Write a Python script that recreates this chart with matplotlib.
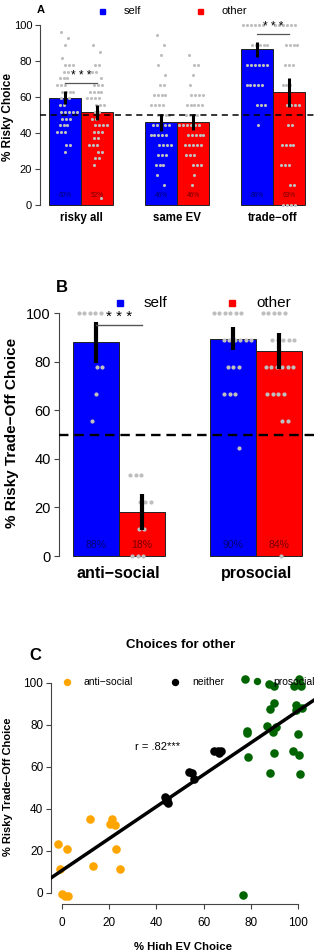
import numpy as np
import matplotlib
matplotlib.use("Agg")
import matplotlib.pyplot as plt

plt.rcParams['font.family'] = ['Liberation Sans', 'DejaVu Sans']

BLUE = '#0000FF'
RED = '#FF0000'
DOT = '#BEBEBE'
AXC = '#444444'

# ---- panel A: all choices ----
cond_a = ['risky all', 'same EV', 'trade\u2212off']
self_a = [59.6, 46.0, 86.5]
other_a = [51.5, 46.0, 62.6]
self_a_ci = [(56.1, 63.5), (41.3, 50.5), (82.4, 90.4)]
other_a_ci = [(47.2, 55.4), (41.5, 50.5), (54.6, 70.7)]
self_a_lab = ['60%', '46%', '86%']
other_a_lab = ['52%', '46%', '63%']

# gray subject dots as (value, count)
dots_risky_self = [(96, 1), (92.6, 1), (88.9, 1), (81.5, 1), (77.8, 3), (74, 2), (70.4, 3),
                   (66.7, 3), (63, 4), (59.3, 3), (55.6, 2), (51.9, 5), (48, 3), (44.4, 3),
                   (40.7, 3), (33.3, 2), (29.6, 1)]
dots_risky_other = [(88.9, 1), (85.2, 1), (77.8, 2), (74, 2), (70.4, 1), (66.7, 3), (63, 4),
                    (59.3, 4), (55.6, 3), (51.9, 2), (48, 2), (44.4, 4), (40.7, 3), (37, 2),
                    (33.3, 3), (29.6, 2), (25.9, 2), (22.2, 1), (3.7, 1)]
dots_same_self = [(94.4, 1), (88.9, 1), (83.3, 1), (77.8, 1), (72.2, 1), (66.7, 2), (61.1, 4),
                  (55.6, 4), (50, 4), (44.4, 5), (38.9, 5), (33.3, 4), (27.8, 3), (22.2, 3),
                  (16.7, 1), (11.1, 1)]
dots_same_other = [(83.3, 1), (77.8, 2), (72.2, 1), (66.7, 1), (61.1, 4), (55.6, 5), (50, 4),
                   (44.4, 6), (38.9, 5), (33.3, 5), (27.8, 3), (22.2, 3), (16.7, 1), (11.1, 1)]
dots_trade_self = [(100, 6), (88.9, 5), (77.8, 6), (66.7, 5), (55.6, 3), (44.4, 1)]
dots_trade_other = [(100, 6), (88.9, 4), (77.8, 3), (66.7, 3), (55.6, 4), (44.4, 2), (33.3, 4),
                    (22.2, 3), (11.1, 2), (0, 4)]

# ---- panel B: trade-off choices by group ----
cond_b = ['anti\u2212social', 'prosocial']
self_b = [87.9, 89.3]
other_b = [18.0, 84.5]
self_b_ci = [(79.3, 96.4), (84.8, 94.1)]
other_b_ci = [(10.6, 25.5), (77.0, 91.6)]
self_b_lab = ['88%', '90%']
other_b_lab = ['18%', '84%']

dots_anti_self = [(100, 5), (77.8, 2), (66.7, 1), (55.6, 1)]
dots_anti_other = [(33.3, 3), (22.2, 3), (11.1, 2), (0, 3)]
dots_pro_self = [(100, 6), (88.9, 6), (77.8, 3), (66.7, 3), (44.4, 1)]
dots_pro_other = [(100, 5), (88.9, 5), (77.8, 6), (66.7, 4), (55.6, 2), (0, 1)]

# ---- panel C: choices for other ----
anti_x = [-1.6, -0.8, 2.0, 0.0, 1.4, 2.5, 11.7, 13.0, 21.2, 20.5, 22.6, 22.9, 24.6]
anti_y = [23.5, 11.6, 21.1, -0.3, -1.3, -1.6, 35.2, 13.0, 35.2, 33.0, 32.4, 21.1, 11.4]
neither_x = [43.5, 44.6, 44.0, 45.0, 54.0, 55.0, 55.8, 64.5, 66.0, 67.5, 66.5]
neither_y = [45.5, 44.8, 43.6, 43.0, 57.5, 57.2, 54.3, 67.8, 67.5, 67.8, 66.5]
pro_x = [77.7, 87.7, 89.7, 98.2, 100.5, 101.5, 100.8, 88.0, 89.9, 99.3, 99.3, 101.7, 78.4,
         78.6, 86.8, 89.4, 90.5, 100.0, 79.0, 89.7, 97.9, 100.6, 88.3, 100.7, 76.9]
pro_y = [102.0, 99.5, 98.7, 98.4, 101.8, 98.3, 99.5, 87.6, 90.2, 89.4, 87.0, 88.1, 76.2,
         77.0, 79.4, 76.5, 79.0, 75.7, 64.8, 66.7, 67.5, 65.9, 57.1, 56.7, -0.8]
r_text = 'r = .82***'


def draw_dots(ax, xc, dots, gap, size):
    for k, (val, n) in enumerate(dots):
        offs = (np.arange(n) - (n - 1) / 2) * gap
        shift = ((k * 5) % 7 - 3) * gap * 0.35
        ax.scatter(xc + offs + shift, np.full(n, val), s=size, color=DOT, lw=0, zorder=3)


def style_axis(ax, fs, ticklen):
    for s in ['top', 'right', 'bottom']:
        ax.spines[s].set_visible(False)
    ax.spines['left'].set_bounds(0, 100)
    ax.spines['left'].set_color(AXC)
    ax.spines['left'].set_linewidth(0.8)
    ax.set_yticks([0, 20, 40, 60, 80, 100])
    ax.tick_params(axis='y', length=ticklen, width=0.8, color=AXC, labelsize=fs, pad=2)
    ax.set_xticks([])
    ax.set_facecolor('none')


def bar_panel(ax, self_v, other_v, self_ci, other_ci, self_lab, other_lab, dots_s, dots_o,
              cats, gap, dsize, elw, labfs, pctfs, laby, pcty):
    n = len(self_v)
    xs = np.arange(n) * 3 + 1.5
    xo = xs + 1
    ax.bar(xs, self_v, width=1, color=BLUE, edgecolor='#222222', lw=0.7, zorder=2)
    ax.bar(xo, other_v, width=1, color=RED, edgecolor='#222222', lw=0.7, zorder=2)
    for i in range(n):
        draw_dots(ax, xs[i], dots_s[i], gap, dsize)
        draw_dots(ax, xo[i], dots_o[i], gap, dsize)
        ax.plot([xs[i], xs[i]], self_ci[i], color='black', lw=elw, solid_capstyle='butt', zorder=5)
        ax.plot([xo[i], xo[i]], other_ci[i], color='black', lw=elw, solid_capstyle='butt', zorder=5)
        ax.text(xs[i], pcty, self_lab[i], ha='center', va='center', fontsize=pctfs,
                color='black', alpha=0.55, zorder=6)
        ax.text(xo[i], pcty, other_lab[i], ha='center', va='center', fontsize=pctfs,
                color='black', alpha=0.55, zorder=6)
        ax.text(xs[i] + 0.5, laby, cats[i], ha='center', va='center', fontsize=labfs,
                fontweight='bold', clip_on=False)
    return xs, xo


fig = plt.figure(figsize=(3.14, 9.5), dpi=100)

# panel A
axA = fig.add_axes([40 / 314, 0.7766, 274 / 314, 0.2046])
xs, xo = bar_panel(axA, self_a, other_a, self_a_ci, other_a_ci, self_a_lab, other_a_lab,
                   [dots_risky_self, dots_same_self, dots_trade_self],
                   [dots_risky_other, dots_same_other, dots_trade_other],
                   cond_a, 0.12, 5, 2.2, 8.3, 4.7, -7.2, 5.5)
axA.axhline(50, color='black', lw=1.1, dashes=(4, 3), zorder=4)
axA.set_xlim(0.72, 9.28)
axA.set_ylim(-4, 104)
style_axis(axA, 8, 3.6)
for i, lvl in [(0, 68), (2, 95)]:
    axA.plot([xs[i], xo[i]], [lvl, lvl], color='#555555', lw=0.9, zorder=6)
    axA.text((xs[i] + xo[i]) / 2, lvl + 0.5, '* * *', ha='center', va='bottom', fontsize=8.5, zorder=6)

# panel B
axB = fig.add_axes([59 / 314, 0.4045, 255 / 314, 0.2762])
xs, xo = bar_panel(axB, self_b, other_b, self_b_ci, other_b_ci, self_b_lab, other_b_lab,
                   [dots_anti_self, dots_pro_self], [dots_anti_other, dots_pro_other],
                   cond_b, 0.12, 9, 3.0, 11.5, 7.5, -7.0, 4.5)
axB.axhline(50, color='black', lw=1.7, dashes=(4, 2.5), zorder=4)
axB.set_xlim(0.70, 6.255)
axB.set_ylim(-4, 104)
style_axis(axB, 10.5, 3.8)
axB.plot([xs[0], xo[0]], [95, 95], color='#555555', lw=1.0, zorder=6)
axB.text((xs[0] + xo[0]) / 2, 95.3, '* * *', ha='center', va='bottom', fontsize=11, zorder=6)

# panel C
axC = fig.add_axes([51 / 314, 0.04842, 263 / 314, 0.2471])
axC.scatter(anti_x, anti_y, s=38, color='#FFA500', lw=0, zorder=3)
axC.scatter(neither_x, neither_y, s=38, color='black', lw=0, zorder=3)
axC.scatter(pro_x, pro_y, s=38, color='#006400', lw=0, zorder=3)
all_x = np.array(anti_x + neither_x + pro_x)
all_y = np.array(anti_y + neither_y + pro_y)
slope, icpt = np.polyfit(all_x, all_y, 1)
lx = np.array([-10, 120])
axC.plot(lx, icpt + slope * lx, color='black', lw=2.5, zorder=4)
axC.text(40.3, 69.5, r_text, ha='center', va='center', fontsize=8)
axC.set_xlim(-4.66, 106.8)
axC.set_ylim(-5.24, 106.5)
style_axis(axC, 8.5, 3.6)
axC.spines['bottom'].set_visible(True)
axC.spines['bottom'].set_bounds(0, 100)
axC.spines['bottom'].set_color(AXC)
axC.spines['bottom'].set_linewidth(0.8)
axC.set_xticks([0, 20, 40, 60, 80, 100])
axC.tick_params(axis='x', length=3.6, width=0.8, color=AXC, labelsize=8.5, pad=6)
axC.set_xlabel('% High EV Choice', fontsize=8.2, fontweight='bold', labelpad=9)

# overlay in pixel coordinates for letters, titles, axis titles and legends
ov = fig.add_axes([0, 0, 1, 1])
ov.set_xlim(0, 314)
ov.set_ylim(950, 0)
ov.axis('off')
ov.text(41, 10, 'A', fontsize=8, fontweight='bold', ha='center', va='center')
ov.text(62, 288, 'B', fontsize=12, fontweight='bold', ha='center', va='center')
ov.text(35, 655, 'C', fontsize=12, fontweight='bold', ha='center', va='center')
ov.text(181, 645, 'Choices for other', fontsize=9.5, fontweight='bold', ha='center', va='center')

ov.text(8, 117, '% Risky Choice', fontsize=8.5, fontweight='bold', rotation=90,
        ha='center', va='center')
ov.text(12, 433, '% Risky Trade\u2212Off Choice', fontsize=11, fontweight='bold', rotation=90,
        ha='center', va='center')
ov.text(8, 787, '% Risky Trade\u2212Off Choice', fontsize=8, fontweight='bold', rotation=90,
        ha='center', va='center')

ov.plot([102], [11], 's', color=BLUE, ms=3.6)
ov.text(124, 11, 'self', fontsize=8, va='center')
ov.plot([200], [11], 's', color=RED, ms=3.6)
ov.text(222, 11, 'other', fontsize=8, va='center')

ov.plot([120], [303], 's', color=BLUE, ms=5)
ov.text(144, 303, 'self', fontsize=11, va='center')
ov.plot([232], [303], 's', color=RED, ms=5)
ov.text(256, 303, 'other', fontsize=11, va='center')

ov.plot([67], [682], 'o', color='#FFA500', ms=4.3)
ov.text(83, 682, 'anti\u2212social', fontsize=7.5, va='center')
ov.plot([175], [682], 'o', color='black', ms=4.3)
ov.text(192, 682, 'neither', fontsize=7.5, va='center')
ov.plot([256.7], [681], 'o', color='#006400', ms=4.3)
ov.text(273, 682, 'prosocial', fontsize=7.5, va='center')

fig.savefig('out.png', dpi=100)
